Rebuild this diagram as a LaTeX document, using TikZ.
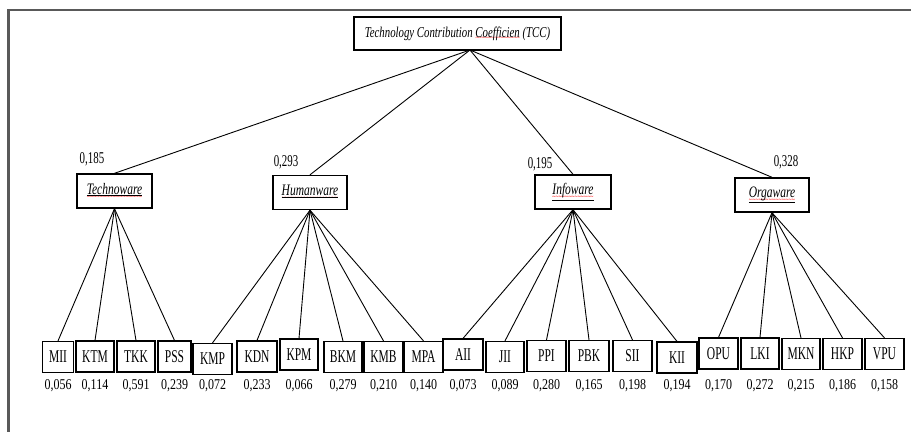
\documentclass[tikz,border=0pt]{standalone}
\usepackage{fontspec}
\setmainfont{Liberation Serif}[FakeStretch=0.72]
\newfontfamily\leaffont{Liberation Serif}[FakeStretch=0.64]
\newfontfamily\numfont{Liberation Serif}[FakeStretch=0.8]
\newfontfamily\midnumfont{Liberation Serif}[FakeStretch=0.66]
\newsavebox\spellbox
\newcommand\spellwave[2][3.5pt]{\sbox\spellbox{#2}\rlap{\color{red}\raisebox{-#1}{\hbox to\wd\spellbox{\fontsize{8}{8}\selectfont\upshape\xleaders\hbox{\char"7E}\hfill}}}\usebox\spellbox}
\begin{document}
\begin{tikzpicture}[x=1pt,y=-1pt,
  frameline/.style={draw=black!65, line width=2.6pt},
  topbox/.style={draw=black, line width=1.2pt, inner sep=0pt, minimum width=207pt, minimum height=33pt, font=\fontsize{15}{17}\selectfont\itshape},
  midbox/.style={draw=black, line width=1.4pt, inner sep=0pt, minimum height=34pt, font=\fontsize{16}{18}\selectfont\itshape},
  leafbox/.style={draw=black, line width=1.2pt, inner sep=0pt, minimum height=31pt, font=\leaffont\fontsize{18}{20}\selectfont},
  weight/.style={inner sep=0pt, font=\numfont\fontsize{15}{17}\selectfont},
  midweight/.style={inner sep=0pt, font=\midnumfont\fontsize{16.5}{18}\selectfont},
  link/.style={draw=black, line width=0.9pt}]
\useasboundingbox (0,0) rectangle (911,432);
% outer frame (top and left edges)
\coordinate (fTL) at (8.5,10);
\coordinate (fTR) at (911,10);
\coordinate (fBL) at (8.5,432);
\draw[frameline] (fTR) -- (fTL) -- (fBL);

% top node
\node[topbox] (tcc) at (457.5,33.5) {Technology Contribution \spellwave{Coefficien} (TCC)};
\coordinate (tccp) at (470,50);

% second level
\node[midbox, minimum width=75pt] (tech) at (114.5,191) {\spellwave[5pt]{\underline{Technoware}}};
\node[midbox, minimum width=74pt] (human) at (310,192.5) {\spellwave[5pt]{\underline{Humanware}}};
\node[midbox, minimum width=76pt] (info) at (573,192) {\spellwave[5pt]{\underline{Infoware}}};
\node[midbox, minimum width=74pt] (orga) at (772,195) {\spellwave[5pt]{\underline{Orgaware}}};

\node[midweight] (wtech) at (92,159) {0,185};
\node[midweight] (whuman) at (286,162) {0,293};
\node[midweight] (winfo) at (540,164) {0,195};
\node[midweight] (worga) at (786,162) {0,328};

\foreach \t in {tech,human,info,orga}
  \draw[link] (tccp) -- (\t.north);

% leaves
\foreach \n/\x/\w/\y/\v/\p in {
  MII/58/31/357/{0,056}/tech,
  KTM/95/38/356.5/{0,114}/tech,
  TKK/136/38/356.5/{0,591}/tech,
  PSS/174.5/33/356.5/{0,239}/tech,
  KMP/212.5/39/359/{0,072}/human,
  KDN/257/40/356.5/{0,233}/human,
  KPM/299/38/354.5/{0,066}/human,
  BKM/343/38/357/{0,279}/human,
  KMB/383.5/39/357/{0,210}/human,
  MPA/423.5/39/357/{0,140}/human,
  AII/463/40/354.5/{0,073}/info,
  JII/505/38/357/{0,089}/info,
  PPI/546.5/39/356/{0,280}/info,
  PBK/589/40/356/{0,165}/info,
  SII/632.5/39/356/{0,198}/info,
  KII/677/40/357.5/{0,194}/info,
  OPU/718.5/39/353.5/{0,170}/orga,
  LKI/760/38/353.5/{0,272}/orga,
  MKN/801/38/354/{0,215}/orga,
  HKP/842.5/39/354/{0,186}/orga,
  VPU/884.5/39/354/{0,158}/orga}
{
  \node[leafbox, minimum width=\w pt] (\n) at (\x,\y) {\n};
  \node[weight] (v\n) at (\x,386) {\v};
  \draw[link] (\p.south) -- (\n.north);
}
\end{tikzpicture}
\end{document}
